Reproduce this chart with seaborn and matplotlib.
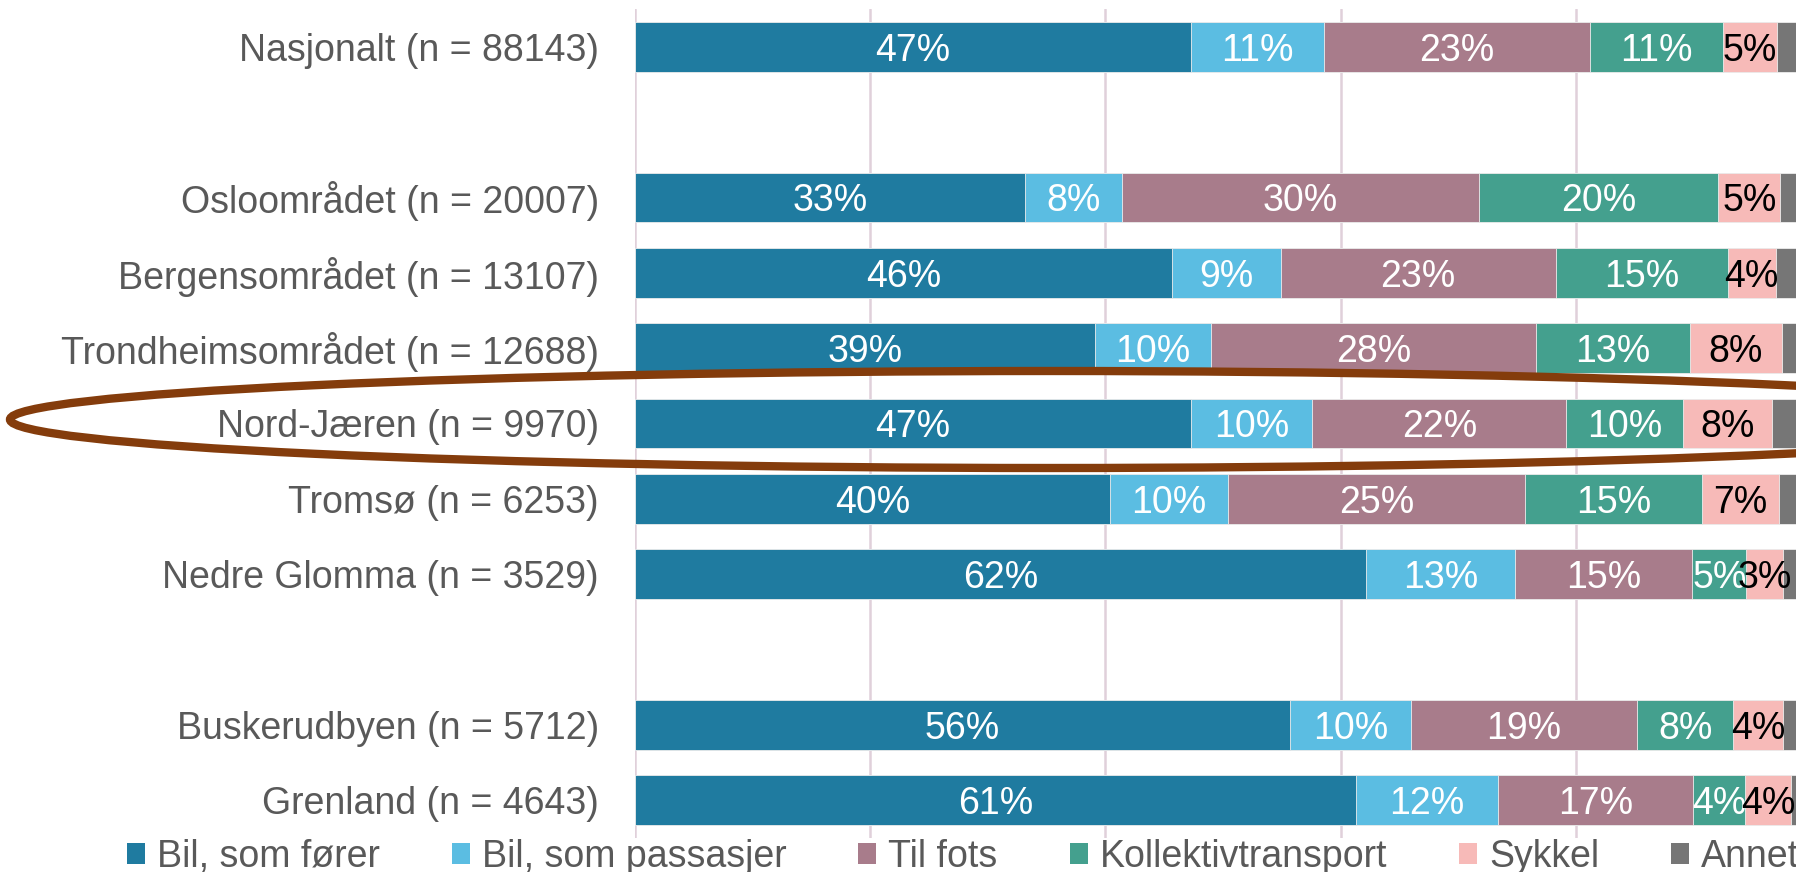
import numpy as np
import pandas as pd
import matplotlib
matplotlib.use("Agg")
import matplotlib.pyplot as plt
import seaborn as sns
from matplotlib.patches import Patch, Ellipse

# ── Data ──────────────────────────────────────────────────────────────────────
regioner = ["Nasjonalt (n = 88143)", " ",
            "Osloområdet (n = 20007)", "Bergensområdet (n = 13107)",
            "Trondheimsområdet (n = 12688)", "Nord-Jæren (n = 9970)",
            "Tromsø (n = 6253)", "Nedre Glomma (n = 3529)", "  ",
            "Buskerudbyen (n = 5712)", "Grenland (n = 4643)"]
med_data = [r for r in regioner if r.strip()]

kategorier = ["Bil, som fører", "Bil, som passasjer", "Til fots",
              "Kollektivtransport", "Sykkel", "Annet"]

bil_forer      = [47.3, 33.2, 45.7, 39.1, 47.3, 40.4, 62.2, 55.7, 61.3]
bil_passasjer  = [11.3,  8.2,  9.2,  9.9, 10.3, 10.0, 12.6, 10.3, 12.1]
til_fots       = [22.6, 30.4, 23.4, 27.6, 21.6, 25.3, 15.1, 19.2, 16.6]
kollektiv      = [11.3, 20.3, 14.6, 13.1,  9.9, 15.0,  4.6,  8.2,  4.4]
sykkel         = [ 4.6,  5.3,  4.1,  7.8,  7.6,  6.6,  3.1,  4.2,  3.9]
annet          = [ 2.9,  2.6,  3.0,  2.5,  3.3,  2.7,  2.4,  2.4,  1.7]

farger = ["#1F7BA0", "#5BBDE2", "#A87C8B", "#44A08E", "#F7BAB8", "#767676"]
tekstfarge = ["white", "white", "white", "white", "black", None]

df = pd.DataFrame({"Region": med_data,
                   kategorier[0]: bil_forer, kategorier[1]: bil_passasjer,
                   kategorier[2]: til_fots, kategorier[3]: kollektiv,
                   kategorier[4]: sykkel, kategorier[5]: annet})

# ── Figure ────────────────────────────────────────────────────────────────────
sns.set_theme(style="white")
plt.rcParams["font.family"] = ["Liberation Sans", "DejaVu Sans"]

W, H = 1796, 872
fig = plt.figure(figsize=(W / 100, H / 100), dpi=100)
ax = fig.add_axes([635 / W, 1 - 838 / H, 1176 / W, 829 / H])

# stacked bars: draw cumulative sums from the largest down
cum = df[kategorier].cumsum(axis=1)
for kat, farge in reversed(list(zip(kategorier, farger))):
    sns.barplot(x=cum[kat], y=df["Region"], order=regioner, orient="h",
                color=farge, width=0.66, saturation=1, errorbar=None,
                edgecolor="#EDEDED", linewidth=0.6, ax=ax, zorder=3)

# percentage labels
pos = {r: i for i, r in enumerate(regioner)}
for _, rad in df.iterrows():
    venstre = 0
    for kat, tf in zip(kategorier, tekstfarge):
        v = rad[kat]
        if tf is not None:
            ax.text(venstre + v / 2, pos[rad["Region"]], f"{v:.0f}%",
                    ha="center", va="center_baseline", color=tf,
                    fontsize=27, zorder=5)
        venstre += v

ax.set_xlim(0, 100)
ax.set_ylim(len(regioner) - 0.5, -0.5)
ax.set_xticks([0, 20, 40, 60, 80, 100])
ax.set_xticklabels([])
ax.grid(axis="x", color="#E0D0DA", linewidth=1.8, zorder=0)
ax.set_axisbelow(True)
ax.set_xlabel("")
ax.set_ylabel("")
ax.tick_params(axis="y", length=0, pad=26, labelsize=27, labelcolor="#595959")
ax.tick_params(axis="x", length=0)
for s in ax.spines.values():
    s.set_visible(False)

# legend
handles = [Patch(facecolor=f, edgecolor="none", label=k)
           for k, f in zip(kategorier, farger)]
leg = fig.legend(handles=handles, loc="center", ncol=6, frameon=False,
                 bbox_to_anchor=(963 / W, 1 - 857 / H), fontsize=27,
                 handlelength=0.48, handleheight=0.48, handletextpad=0.32,
                 columnspacing=1.92, borderpad=0, borderaxespad=0)
for t in leg.get_texts():
    t.set_color("#595959")

# highlight ring around Nord-Jæren
ring = Ellipse((1050 / W, 1 - 419.5 / H), 2080 / W, 97 / H,
               transform=fig.transFigure, fill=False,
               edgecolor="#843C0C", linewidth=6, zorder=10)
fig.add_artist(ring)

fig.savefig("out.png", dpi=100)
